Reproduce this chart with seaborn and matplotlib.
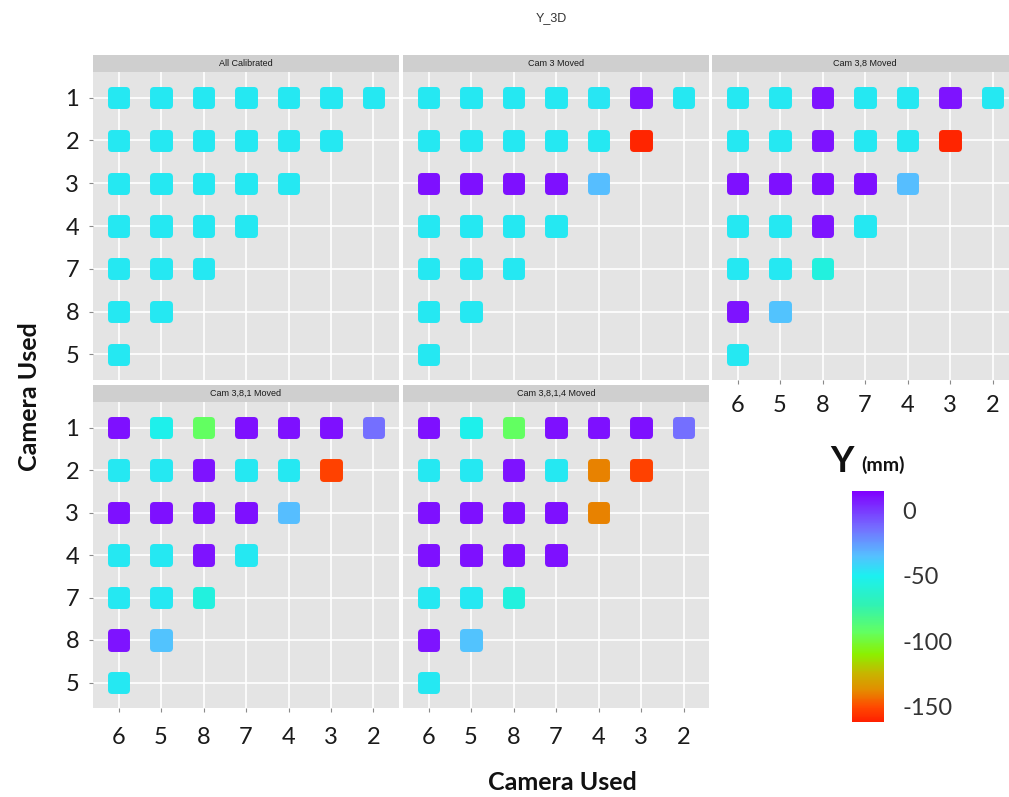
import matplotlib
matplotlib.use("Agg")
import numpy as np
import pandas as pd
import matplotlib.pyplot as plt
import seaborn as sns
from matplotlib.colors import LinearSegmentedColormap, Normalize
from matplotlib.cm import ScalarMappable
from matplotlib.patches import Rectangle

# ---- data -------------------------------------------------------------
cam_x = ["6", "5", "8", "7", "4", "3", "2"]
cam_y = ["1", "2", "3", "4", "7", "8", "5"]
panels = ["All Calibrated", "Cam 3 Moved", "Cam 3,8 Moved",
          "Cam 3,8,1 Moved", "Cam 3,8,1,4 Moved"]

# Y error (mm) per camera pair; one list per row (cameras 1,2,3,4,7,8,5),
# entries follow the cam_x order
all_calibrated = [
    [-48, -48, -48, -48, -48, -48, -48],
    [-48, -48, -48, -48, -48, -48],
    [-48, -48, -48, -48, -48],
    [-48, -48, -48, -48],
    [-48, -48, -48],
    [-48, -48],
    [-48],
]
cam3_moved = [
    [-48, -48, -48, -48, -47, 9, -48],
    [-48, -48, -48, -48, -48, -160],
    [10, 10, 10, 10, -35],
    [-48, -48, -48, -48],
    [-48, -48, -48],
    [-48, -48],
    [-48],
]
cam38_moved = [
    [-48, -48, 9, -48, -48, 9, -48],
    [-48, -48, 9, -48, -48, -160],
    [10, 10, 10, 10, -35],
    [-48, -48, 9, -48],
    [-48, -48, -57],
    [9, -36],
    [-48],
]
cam381_moved = [
    [10, -52, -93, 10, 10, 10, -14],
    [-48, -48, 9, -48, -48, -152],
    [10, 10, 10, 10, -35],
    [-48, -48, 9, -48],
    [-48, -48, -57],
    [9, -36],
    [-48],
]
cam3814_moved = [
    [10, -52, -93, 10, 10, 10, -14],
    [-48, -48, 9, -48, -139, -152],
    [10, 10, 10, 10, -139],
    [10, 10, 10, 10],
    [-48, -48, -57],
    [9, -36],
    [-48],
]
panel_values = [all_calibrated, cam3_moved, cam38_moved,
                cam381_moved, cam3814_moved]

records = []
for name, rows in zip(panels, panel_values):
    for cy, row in zip(cam_y, rows):
        for cx, val in zip(cam_x, row):
            records.append({"panel": name, "cam_x": cx, "cam_y": cy, "Y": val})
df = pd.DataFrame(records)
df["xi"] = pd.Categorical(df["cam_x"], categories=cam_x).codes
df["yi"] = pd.Categorical(df["cam_y"], categories=cam_y).codes

# ---- colour scale -----------------------------------------------------
vmin, vmax = -161.5, 14.5
stops = [(-161.5, "#ff2000"), (-150, "#ff4a00"), (-138, "#e58a00"),
         (-125, "#c8b400"), (-110, "#8cf000"), (-93, "#62ff62"),
         (-72, "#30f2b4"), (-50, "#1cf0f0"), (-35, "#55c0ff"),
         (-14, "#7470ff"), (14.5, "#8000ff")]
cmap = LinearSegmentedColormap.from_list(
    "yscale", [((v - vmin) / (vmax - vmin), c) for v, c in stops])
norm = Normalize(vmin=vmin, vmax=vmax)

# ---- figure -----------------------------------------------------------
sns.set_theme(style="white")
plt.rcParams["font.family"] = ["Liberation Sans", "DejaVu Sans"]
plt.rcParams["axes.unicode_minus"] = False

g = sns.relplot(data=df, x="xi", y="yi", hue="Y", hue_norm=norm,
                palette=cmap, col="panel", col_order=panels, col_wrap=3,
                kind="scatter", marker="s", s=120, linewidth=5,
                edgecolor="face", joinstyle="round", legend=False,
                height=3, aspect=1)
fig = g.figure
W, H = 1009, 797
fig.set_size_inches(W / 100, H / 100)
fig.set_dpi(100)

boxes = {  # x0, x1, top, bottom in pixels
    0: (93, 399, 72, 380),
    1: (403, 709, 72, 380),
    2: (712, 1018, 72, 380),
    3: (93, 399, 402, 708),
    4: (403, 709, 402, 708),
}
axes = list(g.axes.flat)

# shared tick positions and labels (set once, visibility per panel)
axes[0].set_xlim(-0.6, 6.6)
axes[0].set_ylim(6.6, -0.6)
axes[0].set_xticks(range(len(cam_x)))
axes[0].set_yticks(range(len(cam_y)))
axes[0].set_xticklabels(cam_x)
axes[0].set_yticklabels(cam_y)

for i, ax in enumerate(axes):
    x0, x1, top, bot = boxes[i]
    ax.set_position([x0 / W, 1 - bot / H, (x1 - x0) / W, (bot - top) / H])
    ax.set_facecolor("#e4e4e4")
    for sp in ax.spines.values():
        sp.set_visible(False)
    ax.grid(True, color="white", linewidth=1.2)
    ax.set_axisbelow(True)
    ax.set_title("")
    ax.set_xlabel("")
    ax.set_ylabel("")
    show_x = i in (2, 3, 4)
    show_y = i in (0, 3)
    ax.tick_params(axis="x", length=3 if show_x else 0, width=0.8,
                   color="#8a8a8a", pad=8 if i == 2 else 11, labelsize=17,
                   labelcolor="#1a1a1a", bottom=show_x, labelbottom=show_x)
    ax.tick_params(axis="y", length=3 if show_y else 0, width=0.8,
                   color="#8a8a8a", pad=7, labelsize=17,
                   labelcolor="#1a1a1a", left=show_y, labelleft=show_y)
    for lab in ax.get_xticklabels() + ax.get_yticklabels():
        lab.set_fontfamily("Lato")
    # facet strip
    strip_h = 17 / (bot - top)
    ax.add_patch(Rectangle((0, 1), 1, strip_h, transform=ax.transAxes,
                           facecolor="#cfcfcf", edgecolor="none",
                           clip_on=False))
    ax.text(0.5, 1 + strip_h / 2, panels[i], transform=ax.transAxes,
            ha="center", va="center", fontsize=6.5, color="#1a1a1a")

# colour bar
cax = fig.add_axes([852 / W, 1 - 722 / H, 32 / W, 231 / H])
cb = fig.colorbar(ScalarMappable(norm=norm, cmap=cmap), cax=cax)
cb.outline.set_visible(False)
cb.set_ticks([0, -50, -100, -150])
cb.ax.tick_params(length=0, pad=13)
for lab in cb.ax.get_yticklabels():
    lab.set_fontfamily("Lato")
    lab.set_fontsize(17)
    lab.set_color("#333333")
fig.text(830 / W, 1 - 472 / H, "Y", family="Lato", weight="bold",
         fontsize=26, color="#111111", ha="left", va="baseline")
fig.text(861 / W, 1 - 471 / H, "(mm)", family="Lato", weight="bold",
         fontsize=14, color="#111111", ha="left", va="baseline")

# titles
fig.text(551 / W, 1 - 18 / H, "Y_3D", fontsize=9, color="#333333",
         ha="center", va="center")
fig.text(562 / W, 1 - 783 / H, "Camera Used", family="Lato",
         weight="bold", fontsize=18, color="#111111",
         ha="center", va="center")
fig.text(30 / W, 1 - 397 / H, "Camera Used", family="Lato",
         weight="bold", fontsize=18, color="#111111", rotation=90,
         ha="center", va="center")

fig.savefig("out.png", dpi=100)
